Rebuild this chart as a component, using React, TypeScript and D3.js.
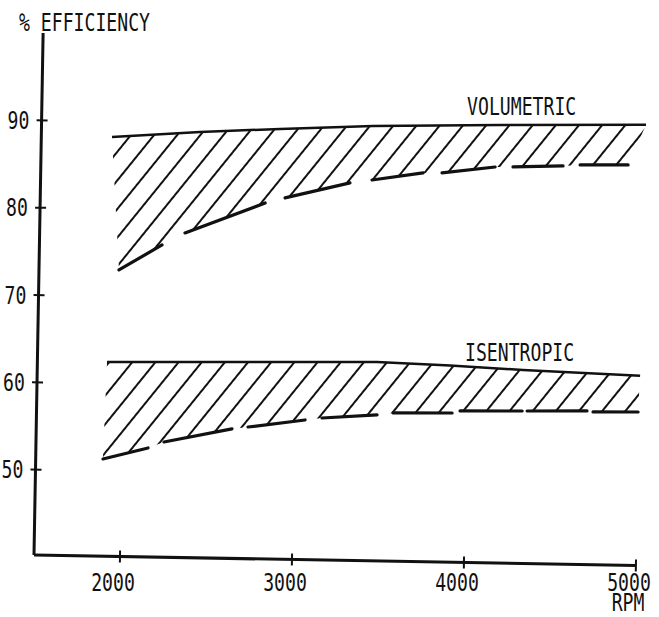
import React from "react";
import * as d3 from "d3";

type P = [number, number];

// ---- data (rpm, % efficiency) ----
const xTickValues = [2000, 3000, 4000, 5000];
const xTickLabels = ["2000", "3000", "4000", "5000"];
const yTickValues = [50, 60, 70, 80, 90];
const yTickLabels = ["50", "60", "70", "80", "90"];

const volumetricUpper: P[] = [
  [1911, 88.25],
  [2422, 89.0],
  [2887, 89.5],
  [3427, 90.03],
  [4166, 90.4],
  [5014, 90.7],
];
const volumetricLower: P[][] = [
  [[1965, 73.04], [2213, 75.98]],
  [[2345, 77.4], [2808, 80.99]],
  [[2923, 81.61], [3299, 83.46]],
  [[3427, 83.84], [3723, 84.75]],
  [[3833, 84.79], [4141, 85.57]],
  [[4245, 85.62], [4536, 85.83]],
  [[4635, 85.98], [4914, 86.08]],
];
const isentropicUpper: P[] = [
  [1905, 62.48],
  [2678, 62.74],
  [3474, 63.02],
  [3899, 62.75],
  [4324, 62.39],
  [5005, 61.95],
];
const isentropicLower: P[][] = [
  [[1891, 51.36], [2152, 52.71]],
  [[2244, 53.43], [2638, 55.06]],
  [[2731, 55.31], [3062, 56.23]],
  [[3160, 56.49], [3480, 56.95]],
  [[3573, 57.21], [3916, 57.32]],
  [[3962, 57.57], [4323, 57.69]],
  [[4352, 57.7], [4700, 57.83]],
  [[4735, 57.73], [4997, 57.81]],
];
const volumetricLabel = { text: "VOLUMETRIC", rpm: 3973, eff: 91.48 };
const isentropicLabel = { text: "ISENTROPIC", rpm: 3986, eff: 63.3 };
const titleText = "% EFFICIENCY";
const unitText = "RPM";

// ---- layout ----
const W = 659;
const H = 617;
const ORIGIN_X = 34;
const ORIGIN_Y = 555;
const TILT = 1;
const INK = "#111";
const FONT = "'DejaVu Sans Mono', monospace";
const FS = 24.5;
const SX = 0.74;

const x = d3.scaleLinear().domain([1500, 5000]).range([0, 602]);
const y = d3.scaleLinear().domain([40, 100]).range([2, -522]);
const line = d3
  .line<P>()
  .x((d) => x(d[0]))
  .y((d) => y(d[1]));

function Label(props: {
  x: number;
  y: number;
  text: string;
  anchor?: string;
  rot?: number;
}) {
  const { text, anchor = "start", rot = 0 } = props;
  return (
    <text
      transform={`translate(${props.x},${props.y}) rotate(${rot}) scale(${SX},1)`}
      textAnchor={anchor}
      fontFamily={FONT}
      fontSize={FS}
      fill={INK}
    >
      {text}
    </text>
  );
}

function Band({ upper, lower }: { upper: P[]; lower: P[][] }) {
  const poly: P[] = [...upper, ...lower.flat().slice().reverse()];
  return (
    <g>
      <path d={(line(poly) || "") + "Z"} fill="url(#hatch)" stroke="none" />
      <path d={line(upper) || ""} fill="none" stroke={INK} strokeWidth={2.5} />
      {lower.map((seg, i) => (
        <path
          key={i}
          d={line(seg) || ""}
          fill="none"
          stroke={INK}
          strokeWidth={3.2}
          strokeLinecap="round"
        />
      ))}
    </g>
  );
}

export default function App() {
  return (
    <svg
      width={W}
      height={H}
      viewBox={`0 0 ${W} ${H}`}
      style={{ position: "absolute", left: 0, top: 0, background: "#fff" }}
    >
      <defs>
        <pattern
          id="hatch"
          patternUnits="userSpaceOnUse"
          width={18}
          height={18}
          patternTransform="rotate(38)"
        >
          <line x1={9} y1={-2} x2={9} y2={20} stroke={INK} strokeWidth={2} />
        </pattern>
      </defs>
      <rect x={0} y={0} width={W} height={H} fill="#fff" />

      <g transform={`translate(${ORIGIN_X},${ORIGIN_Y}) rotate(${TILT})`}>
        {/* axes */}
        <line x1={x(1500)} y1={0} x2={x(5000)} y2={0} stroke={INK} strokeWidth={3} />
        <line x1={0} y1={0} x2={0} y2={y(100)} stroke={INK} strokeWidth={3} />
        {xTickValues.map((v) => (
          <line key={v} x1={x(v)} x2={x(v)} y1={-6} y2={6} stroke={INK} strokeWidth={2} />
        ))}
        {yTickValues.map((v, i) => (
          <g key={v}>
            <line x1={-5} x2={6} y1={y(v)} y2={y(v)} stroke={INK} strokeWidth={2} />
            <Label x={-12} y={y(v) + 8.8} text={yTickLabels[i]} anchor="end" rot={-TILT} />
          </g>
        ))}

        <Band upper={volumetricUpper} lower={volumetricLower} />
        <Band upper={isentropicUpper} lower={isentropicLower} />

        <Label
          x={x(volumetricLabel.rpm)}
          y={y(volumetricLabel.eff)}
          text={volumetricLabel.text}
          rot={-TILT}
        />
        <Label
          x={x(isentropicLabel.rpm)}
          y={y(isentropicLabel.eff)}
          text={isentropicLabel.text}
          rot={-TILT}
        />
      </g>

      {xTickValues.map((v, i) => (
        <Label
          key={v}
          x={ORIGIN_X + x(v) - 7}
          y={591}
          text={xTickLabels[i]}
          anchor="middle"
        />
      ))}
      <Label x={ORIGIN_X + x(5000) - 8} y={611} text={unitText} anchor="middle" />
      <Label x={19} y={31} text={titleText} />
    </svg>
  );
}
